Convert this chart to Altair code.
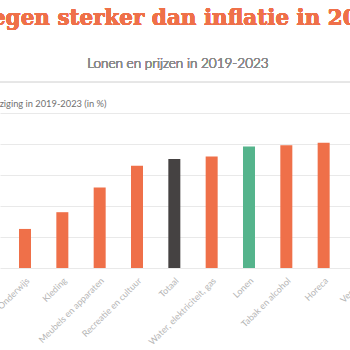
import altair as alt
import pandas as pd

categories = ["Onderwijs", "Kleding", "Meubels en apparaten", "Recreatie en cultuur",
              "Totaal", "Water, elektriciteit, gas", "Lonen", "Tabak en alcohol",
              "Horeca", "Vervoer"]
values = [6.3, 9.0, 13.0, 16.5, 17.6, 18.0, 19.6, 19.8, 20.2, 21.0]
groups = ["Prijzen", "Prijzen", "Prijzen", "Prijzen", "Totaal", "Prijzen",
          "Lonen", "Prijzen", "Prijzen", "Prijzen"]

title_text = "Lonen stegen sterker dan inflatie in 2023"
subtitle_text = "Lonen en prijzen in 2019-2023"
y_title = "Prijswijziging in 2019-2023 (in %)"

df = pd.DataFrame({"cat": categories, "val": values, "grp": groups})

W, H = 350, 155

bars = alt.Chart(df).mark_bar(size=12).encode(
    x=alt.X("cat:N", sort=categories,
            scale=alt.Scale(range=[0, 386], paddingInner=0, paddingOuter=0.17),
            axis=alt.Axis(title=None, labelAngle=-45, labelColor="#b4b4b4",
                          labelFont="Lato", labelFontSize=9, ticks=False,
                          domain=False, labelPadding=8, labelOverlap=False)),
    y=alt.Y("val:Q", scale=alt.Scale(domain=[0, 25], nice=False),
            axis=alt.Axis(values=[0, 5, 10, 15, 20, 25], labels=False, ticks=False,
                          domain=False, gridColor="#e9e9e9", gridWidth=1,
                          title=y_title, titleAngle=0, titleAlign="left",
                          titleBaseline="alphabetic", titleX=-30, titleY=-7,
                          titleFont="Lato", titleFontSize=9.3, titleFontWeight="normal",
                          titleColor="#707070")),
    color=alt.Color("grp:N",
                    scale=alt.Scale(domain=["Prijzen", "Totaal", "Lonen"],
                                    range=["#ef7049", "#454242", "#55b48c"]),
                    legend=None),
)

sep = alt.Chart(df).mark_rule(color="#e6e6e6", strokeWidth=1).encode(
    x=alt.value(0), x2=alt.value(W), y=alt.value(-31)
)

main_title = alt.Chart(df).mark_text(
    text=title_text, align="left", baseline="alphabetic", font="DejaVu Serif",
    fontWeight="bold", fontSize=21.5, color="#ef7049"
).encode(x=alt.value(-112), y=alt.value(-88))

sub_title = alt.Chart(df).mark_text(
    text=subtitle_text, align="center", baseline="alphabetic", font="Lato",
    fontSize=13.5, fontWeight=300, color="#8a8a8a"
).encode(x=alt.value(178), y=alt.value(-45))

chart = alt.layer(bars, sep, main_title, sub_title).properties(
    width=W, height=H,
    autosize=alt.AutoSizeParams(type="none"),
    padding={"left": 0, "top": 113, "right": 0, "bottom": 82},
).configure_view(stroke=None)

chart.save("out.html", embed_options={"renderer": "svg", "actions": False})
